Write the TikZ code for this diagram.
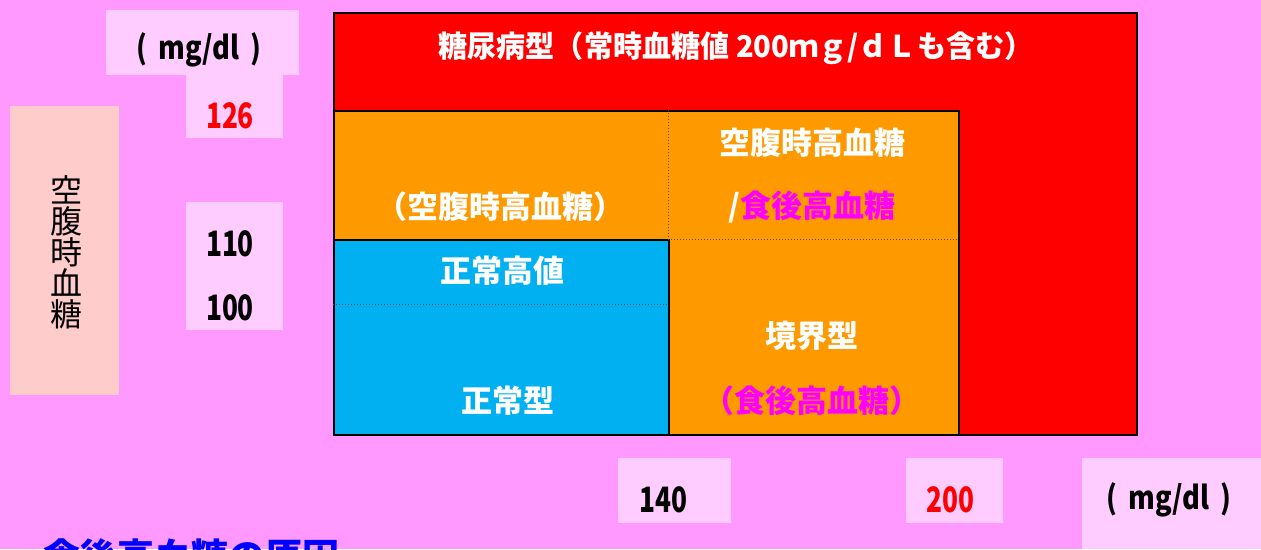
\documentclass[tikz,border=0pt]{standalone}
\usepackage{fontspec}
\newfontfamily\jp{Noto Sans CJK JP}
\definecolor{bg}{RGB}{255,153,255}
\definecolor{lightbox}{RGB}{255,204,255}
\definecolor{peach}{RGB}{255,204,204}
\definecolor{dmred}{RGB}{255,0,0}
\definecolor{borange}{RGB}{255,153,0}
\definecolor{nblue}{RGB}{0,176,240}
\definecolor{mag}{RGB}{255,0,255}
\newcommand{\cnd}[1]{\scalebox{0.75}[1]{#1}}
\begin{document}
\begin{tikzpicture}[x=1pt,y=-1pt,
  region/.style={draw=black, line width=2pt, anchor=north west, inner sep=0pt},
  tagbox/.style={fill=#1, anchor=north west, inner sep=0pt},
  lbl/.style={font=\jp\fontsize{31}{34}\selectfont\bfseries, text=white, inner sep=0pt},
  num/.style={font=\jp\fontsize{35}{38}\selectfont\bfseries, inner sep=0pt},
  unit/.style={font=\jp\fontsize{32}{36}\selectfont\bfseries, inner sep=0pt},
  sep/.style={dotted, line width=1pt, draw=black!70}]
\useasboundingbox[fill=bg] (0,0) rectangle (1261,549);
% regions
\node[region, fill=dmred, minimum width=803pt, minimum height=422pt] (red) at (333,12) {};
\node[region, fill=borange, minimum width=625pt, minimum height=324pt] (orange) at (333,110) {};
\node[region, fill=nblue, minimum width=335pt, minimum height=195pt] (blue) at (333,239) {};
\coordinate (vtop) at (668,110);
\coordinate (vbot) at (668,239);
\coordinate (hright) at (958,239);
\coordinate (bl) at (333,304);
\coordinate (br) at (668,304);
\draw[sep] (vtop) -- (vbot);
\draw[sep] (vbot) -- (hright);
\draw[sep] (bl) -- (br);
% label boxes
\node[tagbox=peach, minimum width=109pt, minimum height=289pt] (fbgbox) at (10,106) {};
\node[tagbox=lightbox, minimum width=193pt, minimum height=65pt] (unitbox1) at (106,10) {};
\node[tagbox=lightbox, minimum width=97pt, minimum height=64pt] (box126) at (186,74) {};
\node[tagbox=lightbox, minimum width=97pt, minimum height=128pt] (box110) at (186,202) {};
\node[tagbox=lightbox, minimum width=113pt, minimum height=65pt] (box140) at (618,458) {};
\node[tagbox=lightbox, minimum width=97pt, minimum height=65pt] (box200) at (906,458) {};
\node[tagbox=lightbox, minimum width=180pt, minimum height=91pt] (unitbox2) at (1082,458) {};
% texts in regions
\node[lbl, font=\jp\fontsize{30}{34}\selectfont\bfseries] (title) at (736,48) {\scalebox{0.97}[1]{糖尿病型（常時血糖値 200ｍｇ/ｄＬも含む）}};
\node[lbl] (ifg) at (500,207) {（空腹時高血糖）};
\node[lbl] (both1) at (812,143) {空腹時高血糖};
\node[lbl] (both2) at (812,207) {/\textcolor{mag}{食後高血糖}};
\node[lbl] (hn) at (502,271) {正常高値};
\node[lbl] (normal) at (508,401) {正常型};
\node[lbl] (border) at (812,336) {境界型};
\node[lbl, text=mag] (igt) at (812,401) {（食後高血糖）};
% axis labels
\node[font=\jp\fontsize{32}{31}\selectfont, align=center, inner sep=0pt] (fbg) at (66,252) {空\\腹\\時\\血\\糖};
\node[unit] (unit1) at (199,50) {\scalebox{0.85}[1]{(\hspace{0.4em}mg/dl\hspace{0.4em})}};
\node[num, text=dmred] (n126) at (230,116) {\cnd{126}};
\node[num] (n110) at (230,244) {\cnd{110}};
\node[num] (n100) at (230,308) {\cnd{100}};
\node[num] (n140) at (663,500) {\cnd{140}};
\node[num, text=dmred] (n200) at (950,500) {\cnd{200}};
\node[unit] (unit2) at (1169,500) {\scalebox{0.85}[1]{(\hspace{0.4em}mg/dl\hspace{0.4em})}};
\node[font=\jp\fontsize{37}{40}\selectfont\bfseries, text=blue, anchor=west, inner sep=0pt] (cause) at (43,556) {食後高血糖の原因};
\end{tikzpicture}
\end{document}
